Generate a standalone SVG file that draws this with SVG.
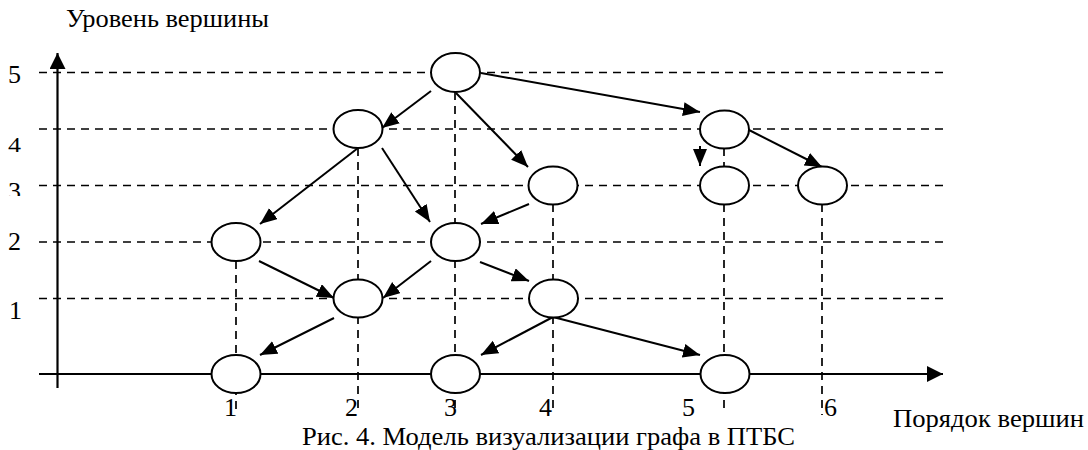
<svg xmlns="http://www.w3.org/2000/svg" width="1088" height="450" viewBox="0 0 1088 450">
<style>
text{font-family:"Liberation Serif","Times New Roman",serif;font-size:26px;fill:#000}
.dash{stroke:#000;stroke-width:1.7;stroke-dasharray:8 6;fill:none}
.axis{stroke:#000;stroke-width:2.2;fill:none}
.edge{stroke:#000;stroke-width:2;fill:none;marker-end:url(#ah)}
.node{fill:#fff;stroke:#000;stroke-width:2}
</style>
<defs>
<marker id="ah" markerUnits="userSpaceOnUse" markerWidth="19" markerHeight="15" refX="17" refY="7" orient="auto">
<path d="M0,0 L17,7 L0,14 z" fill="#000"/>
</marker>
<marker id="axh" markerUnits="userSpaceOnUse" markerWidth="18" markerHeight="18" refX="16" refY="8" orient="auto">
<path d="M0,0 L16,8 L0,16 z" fill="#000"/>
</marker>
<clipPath id="c3"><rect x="0" y="170" width="40" height="26"/></clipPath>
</defs>
<rect width="1088" height="450" fill="#fff"/>
<g id="grid">
<line class="dash" x1="39" y1="72.5" x2="943" y2="72.5"/>
<line class="dash" x1="39" y1="129" x2="943" y2="129"/>
<line class="dash" x1="39" y1="185.5" x2="943" y2="185.5"/>
<line class="dash" x1="39" y1="242" x2="943" y2="242"/>
<line class="dash" x1="39" y1="298.5" x2="943" y2="298.5"/>
<line class="dash" x1="236" y1="261" x2="236" y2="410"/>
<line class="dash" x1="358" y1="148" x2="358" y2="412"/>
<line class="dash" x1="455" y1="92" x2="455" y2="410"/>
<line class="dash" x1="553" y1="204" x2="553" y2="410"/>
<line class="dash" x1="724" y1="148" x2="724" y2="408"/>
<line class="dash" x1="822" y1="204" x2="822" y2="415"/>
</g>
<g id="axes">
<line class="axis" x1="57.5" y1="388" x2="57.5" y2="53" marker-end="url(#axh)"/>
<line class="axis" x1="39" y1="374" x2="943" y2="374" marker-end="url(#axh)"/>
</g>
<g id="connectors">
<line class="edge" x1="431" y1="91" x2="382" y2="128"/>
<line class="edge" x1="456" y1="93" x2="528" y2="167"/>
<line class="edge" x1="481" y1="73" x2="700" y2="112"/>
<line class="edge" x1="358" y1="148" x2="260" y2="224"/>
<line class="edge" x1="382" y1="148" x2="430" y2="222"/>
<line class="edge" x1="529" y1="204" x2="481" y2="224"/>
<line class="edge" x1="700" y1="146" x2="700" y2="166"/>
<line class="edge" x1="749" y1="130" x2="822" y2="167"/>
<line class="edge" x1="259" y1="261" x2="334" y2="298"/>
<line class="edge" x1="431" y1="261" x2="383" y2="298"/>
<line class="edge" x1="480" y1="262" x2="529" y2="281"/>
<line class="edge" x1="334" y1="318" x2="260" y2="355"/>
<line class="edge" x1="553" y1="317" x2="481" y2="355"/>
<line class="edge" x1="553" y1="317" x2="700" y2="355"/>
</g>
<g id="n5a"><ellipse class="node" cx="455.5" cy="72.5" rx="24.5" ry="19.5"/></g>
<g id="n4a"><ellipse class="node" cx="358" cy="129" rx="24.5" ry="19"/></g>
<g id="n4b"><ellipse class="node" cx="724.5" cy="129.5" rx="24.5" ry="19"/></g>
<g id="n3a"><ellipse class="node" cx="553" cy="185.5" rx="24.5" ry="19"/></g>
<g id="n3b"><ellipse class="node" cx="724.5" cy="185.5" rx="24.5" ry="19"/></g>
<g id="n3c"><ellipse class="node" cx="822.5" cy="185.5" rx="24.5" ry="19"/></g>
<g id="n2a"><ellipse class="node" cx="236" cy="242" rx="24.5" ry="19"/></g>
<g id="n2b"><ellipse class="node" cx="455.5" cy="242" rx="24.5" ry="19"/></g>
<g id="n1a"><ellipse class="node" cx="358" cy="298.5" rx="24.5" ry="19"/></g>
<g id="n1b"><ellipse class="node" cx="553.5" cy="298.5" rx="24.5" ry="19"/></g>
<g id="n0a"><ellipse class="node" cx="236" cy="374" rx="24.5" ry="19"/></g>
<g id="n0b"><ellipse class="node" cx="455.5" cy="374" rx="24.5" ry="19"/></g>
<g id="n0c"><ellipse class="node" cx="725" cy="374" rx="24.5" ry="19"/></g>
<g id="labels">
<text x="66" y="27" textLength="203" lengthAdjust="spacingAndGlyphs">Уровень вершины</text>
<text x="8" y="83">5</text>
<text transform="translate(8,152) scale(1,0.8)">4</text>
<text x="8" y="200" clip-path="url(#c3)">3</text>
<text x="8" y="250">2</text>
<text x="9" y="319">1</text>
<text x="237" y="416" text-anchor="end">1</text>
<text x="358" y="416" text-anchor="end">2</text>
<text x="457" y="416" text-anchor="end">3</text>
<text x="552" y="416" text-anchor="end">4</text>
<text x="695" y="416" text-anchor="end">5</text>
<text x="824" y="416">6</text>
<text x="893" y="427" textLength="191" lengthAdjust="spacingAndGlyphs">Порядок вершин</text>
<text x="302" y="445" textLength="493" lengthAdjust="spacingAndGlyphs">Рис. 4. Модель визуализации графа в ПТБС</text>
</g>
</svg>
